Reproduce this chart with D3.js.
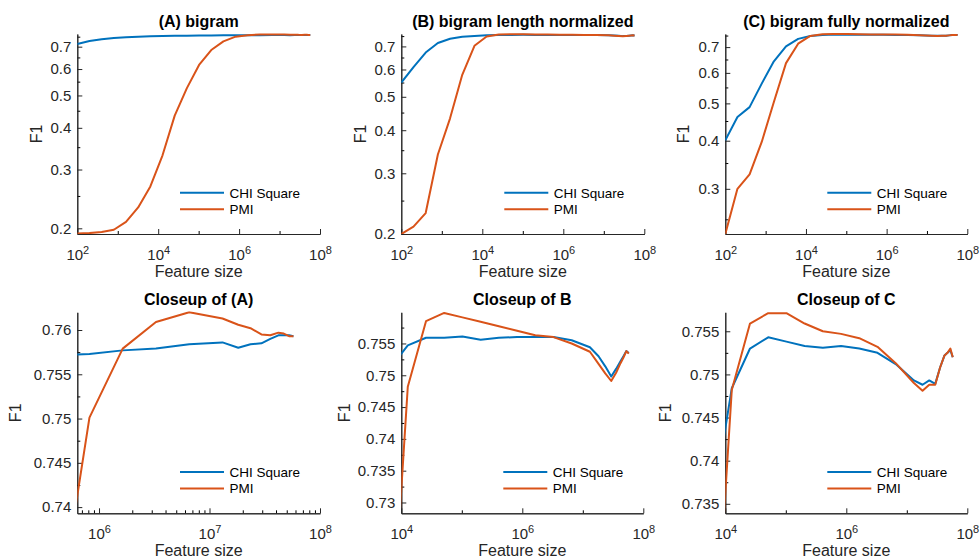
<!DOCTYPE html>
<html>
<head>
<meta charset="utf-8">
<script src="https://cdn.jsdelivr.net/npm/d3@7"></script>
<style>
  body { margin: 0; background: #fff; }
  svg { display: block; font-family: "Liberation Sans", Arial, Helvetica, sans-serif; }
</style>
</head>
<body>
<svg id="chart" width="980" height="560"></svg>
<script>
// Feature sizes (number of retained features) shared by every run
const featureSize = [
  100, 200, 400, 800, 1600, 3200, 6400, 12800, 25600, 51200, 102400, 204800,
  409600, 819200, 1638400, 3276800, 6553600, 13107200,
  18200000, 23500000, 29500000, 35500000, 42000000, 47000000, 52500000, 57500000
];

// F1 scores: plain bigram
const chiA = [0.713, 0.728, 0.737, 0.743, 0.747, 0.750, 0.752, 0.7535, 0.7545, 0.7553, 0.756, 0.7565,
  0.7571, 0.7573, 0.7577, 0.7579, 0.7584, 0.7586,
  0.7580, 0.7584, 0.7585, 0.7590, 0.7594, 0.7594, 0.7594, 0.7593];
const pmiA = [0.193, 0.1935, 0.195, 0.198, 0.209, 0.231, 0.267, 0.331, 0.435, 0.526, 0.617, 0.684,
  0.726, 0.7501, 0.7579, 0.7609, 0.7620, 0.7613,
  0.7606, 0.7602, 0.7595, 0.7594, 0.7597, 0.7596, 0.7593, 0.7593];

// F1 scores: bigram, length normalized
const chiB = [0.55, 0.61, 0.672, 0.716, 0.737, 0.747, 0.751, 0.7547, 0.7559, 0.7559, 0.7561, 0.7556,
  0.7559, 0.756, 0.756, 0.756, 0.7555, 0.7544,
  0.753, 0.7514, 0.7498, 0.751, 0.7522, 0.753, 0.7538, 0.7535];
const pmiB = [0.2, 0.210, 0.230, 0.340, 0.433, 0.579, 0.703, 0.7482, 0.7585, 0.7598, 0.7591, 0.7584,
  0.7577, 0.757, 0.7563, 0.756, 0.755, 0.7537,
  0.7518, 0.7503, 0.7491, 0.7504, 0.7519, 0.7528, 0.7538, 0.7534];

// F1 scores: bigram, fully normalized
const chiC = [0.401, 0.461, 0.489, 0.5626, 0.643, 0.703, 0.7352, 0.7484, 0.753, 0.7543, 0.7538, 0.7533,
  0.7531, 0.7533, 0.753, 0.7525, 0.7512, 0.7493,
  0.7488, 0.7493, 0.7489, 0.7508, 0.7522, 0.7525, 0.7528, 0.752];
const pmiC = [0.229, 0.300, 0.327, 0.397, 0.504, 0.636, 0.7145, 0.7482, 0.7559, 0.7571, 0.7571, 0.7559,
  0.755, 0.7547, 0.7542, 0.7532, 0.7513, 0.749,
  0.7481, 0.7488, 0.7488, 0.7508, 0.7522, 0.7525, 0.753, 0.752];

const seriesNames = ["CHI Square", "PMI"];
const panelTitles = ["(A) bigram", "(B) bigram length normalized", "(C) bigram fully normalized",
  "Closeup of (A)", "Closeup of B", "Closeup of C"];
const xLabel = "Feature size";
const yLabel = "F1";

// Tick values
const yTicksOverview = [0.2, 0.3, 0.4, 0.5, 0.6, 0.7];
const yTicksOverviewC = [0.3, 0.4, 0.5, 0.6, 0.7];
const yMinorOverview = [0.25, 0.35, 0.45, 0.55, 0.65, 0.75];
const yTicksCloseA = [0.74, 0.745, 0.75, 0.755, 0.76];
const yTicksCloseB = [0.73, 0.735, 0.74, 0.745, 0.75, 0.755];
const yTicksCloseC = [0.735, 0.74, 0.745, 0.75, 0.755];
const xTicksWide = [1e2, 1e4, 1e6, 1e8];
const xTicksClose = [1e4, 1e6, 1e8];
const xTicksCloseA = [1e6, 1e7, 1e8];

// ---- styling ----
const colors = ["#0072BD", "#D95319"];
const axisColor = "#262626";
const tickFont = 15;

const svg = d3.select("#chart");

const panels = [
  { chi: chiA, pmi: pmiA, box: [77.3, 320, 34, 234], xDom: [1e2, 1e8], yDom: [0.1923, 0.764], yLog: true,
    yTicks: yTicksOverview, xTicks: xTicksWide, ylabX: 36 },
  { chi: chiB, pmi: pmiB, box: [401.3, 644.3, 34, 234], xDom: [1e2, 1e8], yDom: [0.2, 0.7605], yLog: true,
    yTicks: yTicksOverview, xTicks: xTicksWide, ylabX: 360 },
  { chi: chiC, pmi: pmiC, box: [725.3, 967.3, 34, 234], xDom: [1e2, 1e8], yDom: [0.229, 0.757], yLog: true,
    yTicks: yTicksOverviewC, xTicks: xTicksWide, ylabX: 683.5 },
  { chi: chiA, pmi: pmiA, box: [77.3, 320, 312.3, 513.3], xDom: [6.36e5, 1e8], yDom: [0.7393, 0.762], yLog: false,
    yTicks: yTicksCloseA, xTicks: xTicksCloseA, ylabX: 15.5 },
  { chi: chiB, pmi: pmiB, box: [401.3, 643.3, 312.3, 513.3], xDom: [1e4, 1e8], yDom: [0.7283, 0.7599], yLog: false,
    yTicks: yTicksCloseB, xTicks: xTicksClose, ylabX: 344.5 },
  { chi: chiC, pmi: pmiC, box: [725.3, 967.3, 312.3, 513.3], xDom: [1e4, 1e8], yDom: [0.7339, 0.7572], yLog: false,
    yTicks: yTicksCloseC, xTicks: xTicksClose, ylabX: 665.5 }
];

function minorLogTicks(dom, fine) {
  const out = [];
  const lo = Math.floor(Math.log10(dom[0])), hi = Math.ceil(Math.log10(dom[1]));
  for (let e = lo; e < hi; e++) {
    if (fine) {
      for (let m = 2; m <= 9; m++) out.push(m * Math.pow(10, e));
    } else if (e % 2 === 1) {
      out.push(Math.pow(10, e));
    }
  }
  return out.filter(v => v >= dom[0] && v <= dom[1]);
}

function minorLinearTicks(ticks, dom) {
  const step = ticks[1] - ticks[0];
  const out = [];
  for (let v = ticks[0] - step / 2; v <= dom[1] + 1e-9; v += step) {
    if (v >= dom[0] - 1e-9) out.push(+v.toFixed(6));
  }
  return out.filter(v => !ticks.some(t => Math.abs(t - v) < 1e-7));
}

panels.forEach((p, i) => {
  const [x0, x1, y0, y1] = p.box;
  const x = d3.scaleLog().domain(p.xDom).range([x0, x1]);
  const y = (p.yLog ? d3.scaleLog() : d3.scaleLinear()).domain(p.yDom).range([y1, y0]);
  const g = svg.append("g");

  const clipId = "clip" + i;
  svg.append("clipPath").attr("id", clipId)
    .append("rect").attr("x", x0).attr("y", y0 - 1).attr("width", x1 - x0).attr("height", y1 - y0 + 1);

  // minor ticks
  const xMinor = p.xDom[0] > 1e5 ? minorLogTicks(p.xDom, true) : minorLogTicks(p.xDom, false);
  const yMinor = p.yLog ? yMinorOverview.filter(v => v >= p.yDom[0] && v <= p.yDom[1])
                        : minorLinearTicks(p.yTicks, p.yDom);

  const xMinorAxis = d3.axisBottom(x).tickValues(xMinor).tickSize(-3).tickSizeOuter(0).tickFormat(() => "");
  const yMinorAxis = d3.axisLeft(y).tickValues(yMinor).tickSize(-3).tickSizeOuter(0).tickFormat(() => "");
  g.append("g").attr("transform", `translate(0,${y1})`).call(xMinorAxis);
  g.append("g").attr("transform", `translate(${x0},0)`).call(yMinorAxis);

  // major axes
  const xAxis = d3.axisBottom(x).tickValues(p.xTicks).tickSize(-5).tickSizeOuter(0).tickPadding(15)
    .tickFormat(() => "");
  const yAxis = d3.axisLeft(y).tickValues(p.yTicks).tickSize(-5).tickSizeOuter(0).tickPadding(6)
    .tickFormat(d => String(d));
  const gx = g.append("g").attr("transform", `translate(0,${y1})`).call(xAxis);
  const gy = g.append("g").attr("transform", `translate(${x0},0)`).call(yAxis);

  gx.selectAll(".tick text").each(function (d) {
    const t = d3.select(this);
    t.append("tspan").text("10");
    t.append("tspan").attr("dy", "-0.55em").attr("font-size", "11px").text(Math.round(Math.log10(d)));
  });

  [gx, gy].forEach(a => {
    a.attr("font-family", null).attr("font-size", tickFont);
    a.selectAll("path, line").attr("stroke", axisColor).attr("stroke-width", 1);
    a.selectAll("text").attr("fill", axisColor);
  });
  g.selectAll("path.domain").attr("stroke", axisColor).attr("stroke-width", 1);

  // series lines
  const line = d3.line().x((d, k) => x(featureSize[k])).y(d => y(d));
  const plot = g.append("g").attr("clip-path", `url(#${clipId})`);
  [p.chi, p.pmi].forEach((vals, s) => {
    plot.append("path").datum(vals)
      .attr("d", line)
      .attr("fill", "none")
      .attr("stroke", colors[s])
      .attr("stroke-width", 2)
      .attr("stroke-linejoin", "round");
  });

  // title
  g.append("text").attr("x", (x0 + x1) / 2).attr("y", y0 - 7.5)
    .attr("text-anchor", "middle").attr("font-size", 16).attr("font-weight", "bold")
    .attr("fill", "#000").text(panelTitles[i]);

  // axis labels
  g.append("text").attr("x", (x0 + x1) / 2).attr("y", y1 + 43)
    .attr("text-anchor", "middle").attr("font-size", 16).attr("fill", axisColor).text(xLabel);
  g.append("text")
    .attr("transform", `translate(${p.ylabX},${(y0 + y1) / 2}) rotate(-90)`)
    .attr("text-anchor", "middle").attr("dy", "0.35em")
    .attr("font-size", 16).attr("fill", axisColor).text(yLabel);

  // legend
  const lg = g.append("g");
  const ly = [y1 - 41.2, y1 - 24.8];
  seriesNames.forEach((name, s) => {
    lg.append("line").attr("x1", x1 - 140).attr("x2", x1 - 96)
      .attr("y1", ly[s]).attr("y2", ly[s])
      .attr("stroke", colors[s]).attr("stroke-width", 2);
    lg.append("text").attr("x", x1 - 90.5).attr("y", ly[s]).attr("dy", "0.35em")
      .attr("font-size", 13.5).attr("fill", "#000").text(name);
  });
});
</script>
</body>
</html>
